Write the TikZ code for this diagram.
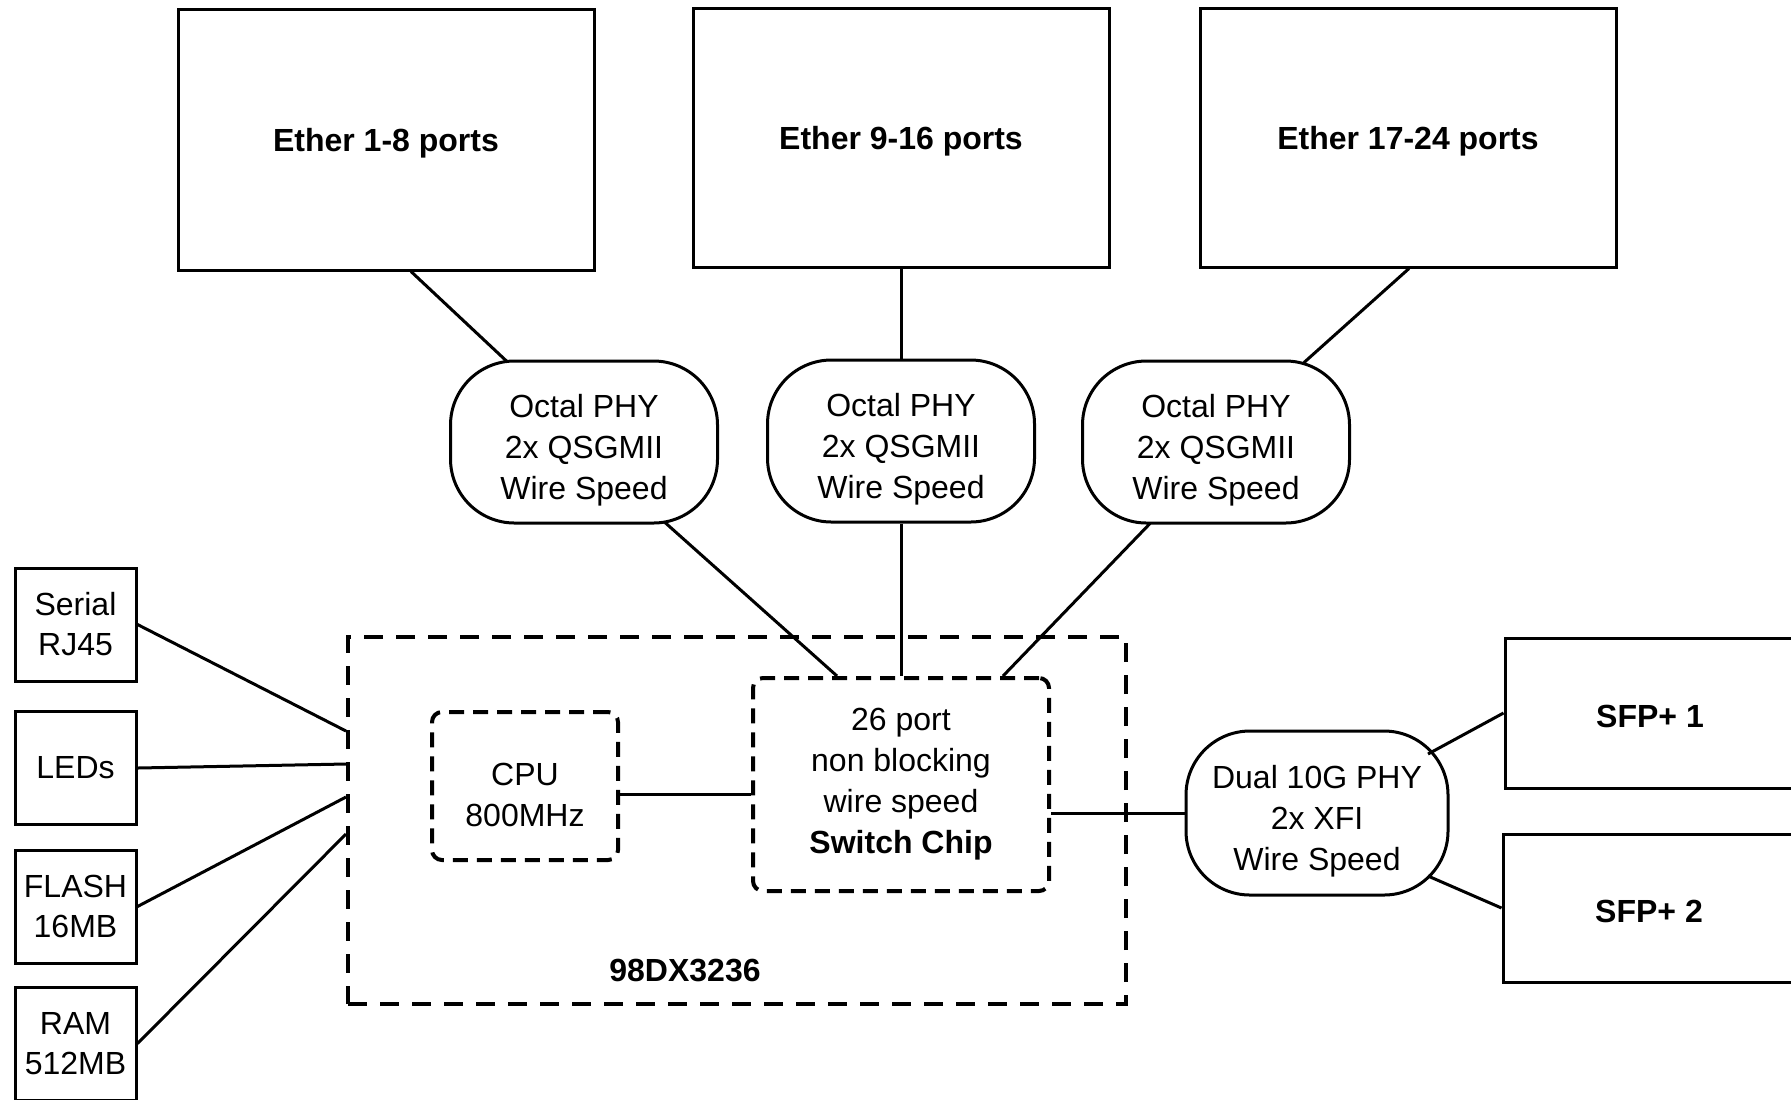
\documentclass[tikz,border=0pt]{standalone}
\usepackage{fontspec}
\setmainfont{Liberation Sans}
\usetikzlibrary{positioning}
\usetikzlibrary{calc}
\colorlet{linec}{black}
\newcommand{\lowstrut}{\rule{0pt}{20pt}}
\tikzset{
  portbox/.style={draw=linec, shape=rectangle, line width=1.5pt, align=center, font=\fontsize{16}{20}\selectfont\bfseries,
    execute at begin node={\rule{0pt}{15pt}}},
  smallbox/.style={draw=linec, shape=rectangle, line width=1.5pt, align=center, inner sep=0pt, minimum width=60.5pt, minimum height=56.5pt, font=\fontsize{16}{20}\selectfont},
  phybox/.style={draw=linec, shape=rectangle, rounded corners=32pt, line width=1.5pt, align=center, minimum width=133.5pt, minimum height=81pt, font=\fontsize{16}{20.5}\selectfont},
  chipbox/.style={draw=linec, shape=rectangle, dash pattern=on 7.5pt off 4.5pt, line width=2pt, rounded corners=5pt, align=center, font=\fontsize{16}{20.5}\selectfont},
  link/.style={draw=linec, line width=1.5pt}
}

\begin{document}
\begin{tikzpicture}[x=0.5pt,y=-0.5pt]
\useasboundingbox (0,0) rectangle (1791,1099);

% ethernet port groups
\node[portbox, minimum width=208pt, minimum height=130.5pt] (ether1) at (386,139.5) {Ether 1-8 ports};
\node[portbox, minimum width=208pt, minimum height=129.5pt] (ether2) at (901,137.5) {Ether 9-16 ports};
\node[portbox, minimum width=208pt, minimum height=129.5pt] (ether3) at (1408,137.5) {Ether 17-24 ports};

% phys
\node[phybox] (phy1) at (584,442) {\lowstrut Octal PHY\\2x QSGMII\\Wire Speed};
\node[phybox] (phy2) at (901,441) {\lowstrut Octal PHY\\2x QSGMII\\Wire Speed};
\node[phybox] (phy3) at (1216,442) {\lowstrut Octal PHY\\2x QSGMII\\Wire Speed};

% the chip
\node[draw=linec, shape=rectangle, dash pattern=on 9.5pt off 6.5pt, line width=2pt, minimum width=389pt, minimum height=183.5pt]
(soc) at (737,820.5) {};
\node[font=\fontsize{16}{20}\selectfont\bfseries] (soclbl) at (685,970) {98DX3236};
\node[chipbox, minimum width=93pt, minimum height=74pt] (cpu) at (525,786) {\lowstrut CPU\\800MHz};
\node[chipbox, minimum width=148pt, minimum height=106.5pt] (switch) at (901,784.5)
{26 port\\non blocking\\wire speed\\\textbf{Switch Chip}};

% sfp side
\node[phybox, minimum width=131pt, minimum height=82pt] (dualphy) at (1317,813) {\lowstrut Dual 10G PHY\\2x XFI\\Wire Speed};
\node[portbox, minimum width=145pt, minimum height=75pt] (sfp1) at (1650,713) {SFP+ 1};
\node[portbox, minimum width=146pt, minimum height=74pt] (sfp2) at (1649,908) {SFP+ 2};

% peripherals
\node[smallbox] (serial) at (75.5,624.5) {Serial\\RJ45};
\node[smallbox] (leds) at (75.5,768) {LEDs};
\node[smallbox] (flash) at (75.5,906.5) {FLASH\\16MB};
\node[smallbox] (ram) at (75.5,1043.5) {RAM\\512MB};

% connections
\draw[link] ($(ether1.south)+(25,0)$) -- ($(phy1.north)+(-77,2)$);
\draw[link] (ether2.south) -- (phy2.north);
\draw[link] ($(ether3.south)+(1,0)$) -- ($(phy3.north)+(88,3)$);
\draw[link] ($(phy1.south)+(81,-2)$) -- ($(switch.north)+(-64,0)$);
\draw[link] (phy2.south) -- (switch.north);
\draw[link] ($(phy3.south)+(-66,-1)$) -- ($(switch.north)+(102,0)$);
\draw[link] ([yshift=-4pt]cpu.east) -- ([yshift=-4pt]cpu.east -| switch.west);
\draw[link] (switch.east |- dualphy.west) -- (dualphy.west);
\draw[link] ($(dualphy.center)+(111,-59)$) -- (sfp1.west);
\draw[link] ($(dualphy.center)+(111,63)$) -- (sfp2.west);

\draw[link] (serial.east) -- ($(soc.west)+(0,-89.5)$);
\draw[link] (leds.east) -- ($(soc.west)+(0,-56.5)$);
\draw[link] (flash.east) -- ($(soc.west)+(0,-23.5)$);
\draw[link] (ram.east) -- ($(soc.west)+(0,13.5)$);

\end{tikzpicture}
\end{document}
